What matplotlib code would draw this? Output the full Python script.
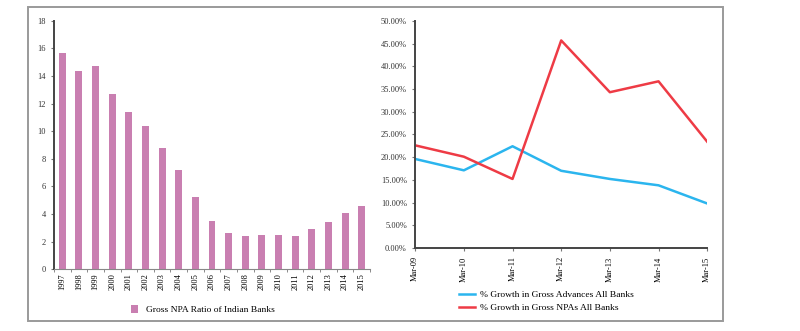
import matplotlib.pyplot as plt
from matplotlib.patches import Rectangle
from matplotlib.ticker import FuncFormatter

plt.rcParams['font.family'] = ['Liberation Serif', 'DejaVu Serif']

# -----------------------------------------------------------
# data
# -----------------------------------------------------------
years = [str(y) for y in range(1997, 2016)]
npa_ratio = [15.7, 14.4, 14.7, 12.7, 11.4, 10.4, 8.8, 7.2, 5.2, 3.5,
             2.6, 2.4, 2.5, 2.5, 2.4, 2.9, 3.4, 4.1, 4.6]

months = ["Mar-09", "Mar-10", "Mar-11", "Mar-12", "Mar-13", "Mar-14", "Mar-15"]
adv_growth = [0.196, 0.171, 0.224, 0.170, 0.152, 0.138, 0.098]
npa_growth = [0.226, 0.201, 0.152, 0.457, 0.343, 0.367, 0.234]

bar_color = "#c97fb1"
blue = "#2bb5ee"
red = "#ee3b45"
spine_col = "#444444"

fig = plt.figure(figsize=(8, 3.31), dpi=100)

# outer frame round both panels
fig.patches.append(Rectangle((0.035, 0.030), 0.869, 0.949,
                             transform=fig.transFigure, fill=False,
                             edgecolor="#9a9a9a", linewidth=1.4))

# -----------------------------------------------------------
# left: gross NPA ratio bars
# -----------------------------------------------------------
ax1 = fig.add_axes([0.0675, 0.187, 0.395, 0.750])
x = range(len(years))
ax1.bar(x, npa_ratio, width=0.42, color=bar_color,
        label="Gross NPA Ratio of Indian Banks")
ax1.set_xlim(-0.5, len(years) - 0.5)
ax1.set_ylim(0, 18)
ax1.set_yticks(range(0, 19, 2))
ax1.set_xticks(list(x))
ax1.set_xticklabels(years, rotation=90, fontsize=6)
ax1.set_xticks([i + 0.5 for i in range(-1, len(years))], minor=True)
ax1.tick_params(axis="x", which="major", length=0, pad=3)
ax1.tick_params(axis="x", which="minor", length=2.5, color="#777777")
ax1.tick_params(axis="y", labelsize=6, length=2.5, color="#777777",
                labelcolor="#333333")
for s in ["top", "right"]:
    ax1.spines[s].set_visible(False)
ax1.spines["left"].set_color(spine_col)
ax1.spines["left"].set_linewidth(1.4)
ax1.spines["bottom"].set_color("#888888")
ax1.legend(loc="upper center", bbox_to_anchor=(0.47, -0.112), frameon=False,
           fontsize=6.8, handlelength=0.8, handleheight=0.8)

# -----------------------------------------------------------
# right: growth lines
# -----------------------------------------------------------
ax2 = fig.add_axes([0.519, 0.2508, 0.365, 0.686])
ax2.plot(range(len(months)), adv_growth, color=blue, lw=1.8,
         label="% Growth in Gross Advances All Banks")
ax2.plot(range(len(months)), npa_growth, color=red, lw=1.8,
         label="% Growth in Gross NPAs All Banks")
ax2.set_xlim(0, len(months) - 1)
ax2.set_ylim(0, 0.5)
ax2.set_yticks([i * 0.05 for i in range(11)])
ax2.yaxis.set_major_formatter(FuncFormatter(lambda v, p: f"{v * 100:.2f}%"))
ax2.set_xticks(range(len(months)))
ax2.set_xticklabels(months, rotation=90, fontsize=6)
ax2.tick_params(axis="x", length=2.5, color="#777777")
ax2.tick_params(axis="y", labelsize=6, length=2.5, color="#777777",
                labelcolor="#333333")
for s in ["top", "right"]:
    ax2.spines[s].set_visible(False)
ax2.spines["left"].set_color(spine_col)
ax2.spines["left"].set_linewidth(1.4)
ax2.spines["bottom"].set_color(spine_col)
ax2.spines["bottom"].set_linewidth(1.4)
ax2.legend(loc="upper left", bbox_to_anchor=(0.12, -0.150), frameon=False,
           fontsize=6.8, handlelength=1.7, handletextpad=0.5,
           labelspacing=0.45)

fig.savefig("out.png", dpi=100)
